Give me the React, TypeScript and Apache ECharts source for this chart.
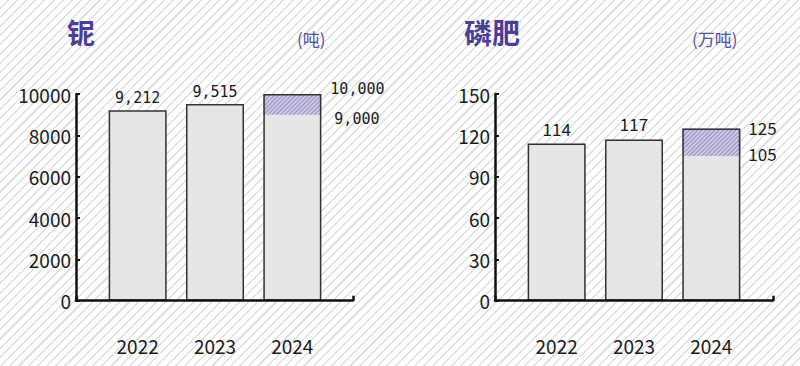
import React, { useEffect, useRef } from "react";
import * as echarts from "echarts";

const categories = ["2022", "2023", "2024"];
const niobiumValues = [9212, 9515];
const niobiumRange2024 = [9000, 10000];
const phosphateValues = [114, 117];
const phosphateRange2024 = [105, 125];
const niobiumTicks = { min: 0, max: 10000, interval: 2000 };
const phosphateTicks = { min: 0, max: 150, interval: 30 };
const titles = [
  { name: "铌", unit: "(吨)" },
  { name: "磷肥", unit: "(万吨)" },
];

const PURPLE = "#4a3e98";
const SANS = "'Noto Sans CJK SC', 'Noto Sans', sans-serif";
const MONO = "'DejaVu Sans Mono', monospace";

function fmt(v: number, comma: boolean) {
  return comma ? v.toLocaleString("en-US") : String(v);
}

function buildChart(
  idx: number,
  values: number[],
  range: number[],
  ticks: { min: number; max: number; interval: number },
  comma: boolean,
  labelFont: string,
  labelSize: number,
  loOffset: number[],
  hiOffset: number[],
  valueDist: number
) {
  const g = idx * 2;
  const full = [...values, range[1]];
  const base = [...values.map(() => null), range[0]];
  const hatch = [...values.map(() => null), range[1] - range[0]];
  const n = full.length;
  const barStyle = { barWidth: 58, barGap: "-100%" };
  const series: any[] = [
    {
      type: "bar",
      xAxisIndex: g,
      yAxisIndex: g,
      ...barStyle,
      data: full.map((v, i) => ({
        value: v,
        label: { show: i < n - 1 },
      })),
      itemStyle: { color: "#e6e6e6" },
      label: {
        show: true,
        position: "top",
        distance: valueDist,
        fontFamily: labelFont,
        fontSize: labelSize,
        color: "#1a1a1a",
        formatter: (p: any) => fmt(p.value, comma),
      },
      z: 2,
    },
    {
      type: "bar",
      stack: "r" + idx,
      xAxisIndex: g,
      yAxisIndex: g,
      ...barStyle,
      data: base,
      itemStyle: { color: "rgba(0,0,0,0)" },
      label: {
        show: true,
        position: ["100%", 0],
        align: "left",
        verticalAlign: "middle",
        offset: loOffset,
        fontFamily: labelFont,
        fontSize: labelSize,
        color: "#1a1a1a",
        formatter: (p: any) => fmt(p.value, comma),
      },
      z: 3,
    },
    {
      type: "bar",
      stack: "r" + idx,
      xAxisIndex: g,
      yAxisIndex: g,
      ...barStyle,
      data: hatch,
      itemStyle: {
        color: "#cfc9e4",
        decal: {
          symbol: "rect",
          symbolSize: 1,
          dashArrayX: [1, 0],
          dashArrayY: [1, 1.6],
          rotation: -Math.PI / 4,
          color: "#958dc3",
        },
      },
      label: {
        show: true,
        position: ["100%", 0],
        align: "left",
        verticalAlign: "middle",
        offset: hiOffset,
        fontFamily: labelFont,
        fontSize: labelSize,
        color: "#1a1a1a",
        formatter: () => fmt(range[1], comma),
      },
      z: 3,
    },
    {
      type: "bar",
      xAxisIndex: g,
      yAxisIndex: g,
      ...barStyle,
      data: full,
      itemStyle: {
        color: "rgba(0,0,0,0)",
        borderColor: "#333333",
        borderWidth: 1.5,
      },
      z: 4,
    },
  ];

  const xAxes: any[] = [
    {
      type: "category",
      gridIndex: g,
      data: categories,
      axisLine: { show: false },
      axisTick: { show: false },
      axisLabel: {
        margin: 35,
        fontFamily: SANS,
        fontSize: 19,
        color: "#1a1a1a",
      },
    },
    {
      type: "value",
      gridIndex: g + 1,
      min: 0,
      max: 1,
      interval: 1,
      axisLine: { show: true, lineStyle: { color: "#111", width: 2.5 } },
      axisTick: {
        show: true,
        inside: true,
        length: 5,
        lineStyle: { color: "#111", width: 2.5 },
      },
      axisLabel: { show: false },
      splitLine: { show: false },
      z: 10,
    },
  ];
  const yAxes: any[] = [
    {
      type: "value",
      gridIndex: g,
      offset: 23,
      min: ticks.min,
      max: ticks.max,
      interval: ticks.interval,
      axisLine: { show: true, lineStyle: { color: "#111", width: 2.5 } },
      axisTick: {
        show: true,
        inside: true,
        length: 4,
        lineStyle: { color: "#111", width: 2 },
      },
      axisLabel: {
        margin: 5,
        fontFamily: SANS,
        fontSize: 19,
        color: "#1a1a1a",
        formatter: (v: number) => String(v),
      },
      splitLine: { show: false },
      z: 10,
    },
    {
      type: "value",
      gridIndex: g + 1,
      show: false,
      min: 0,
      max: 1,
      splitLine: { show: false },
    },
  ];
  return { series, xAxes, yAxes };
}

export default function App() {
  const ref = useRef<HTMLDivElement>(null);
  useEffect(() => {
    if (!ref.current) return;
    const chart = echarts.init(ref.current, undefined, { renderer: "svg" });
    const left = buildChart(
      0,
      niobiumValues,
      niobiumRange2024,
      niobiumTicks,
      true,
      MONO,
      15,
      [13, 4],
      [9, -5],
      5
    );
    const right = buildChart(
      1,
      phosphateValues,
      phosphateRange2024,
      phosphateTicks,
      false,
      SANS,
      17,
      [8, -3],
      [8, -1],
      7
    );
    const graphicTexts: any[] = [
      { x: 67, y: 32, text: titles[0].name, size: 28, bold: true },
      { x: 297, y: 38, text: titles[0].unit, size: 17, bold: false },
      { x: 464, y: 32, text: titles[1].name, size: 28, bold: true },
      { x: 692, y: 38, text: titles[1].unit, size: 17, bold: false },
    ].map((t) => ({
      type: "text",
      x: t.x,
      y: t.y,
      style: {
        text: t.text,
        fontFamily: SANS,
        fontSize: t.size,
        fontWeight: t.bold ? "bold" : "normal",
        fill: t.bold ? PURPLE : "#5a4ea6",
        verticalAlign: "middle",
        align: "left",
      },
    }));

    chart.setOption({
      animation: false,
      grid: [
        { left: 99, right: 469, top: 94, bottom: 65.3 },
        { left: 76, right: 447, top: 94, bottom: 65.3 },
        { left: 518, right: 50, top: 94, bottom: 65.3 },
        { left: 495, right: 27, top: 94, bottom: 65.3 },
      ],
      xAxis: [...left.xAxes, ...right.xAxes],
      yAxis: [...left.yAxes, ...right.yAxes],
      series: [...left.series, ...right.series],
      graphic: graphicTexts,
    });
    return () => chart.dispose();
  }, []);
  return (
    <div
      style={{
        position: "fixed",
        left: 0,
        top: 0,
        width: 800,
        height: 366,
        background:
          "repeating-linear-gradient(135deg, #ffffff 0px, #ffffff 5px, #e0e0e0 5px, #e0e0e0 6.5px)",
      }}
    >
      <div ref={ref} style={{ width: 800, height: 366 }} />
    </div>
  );
}
